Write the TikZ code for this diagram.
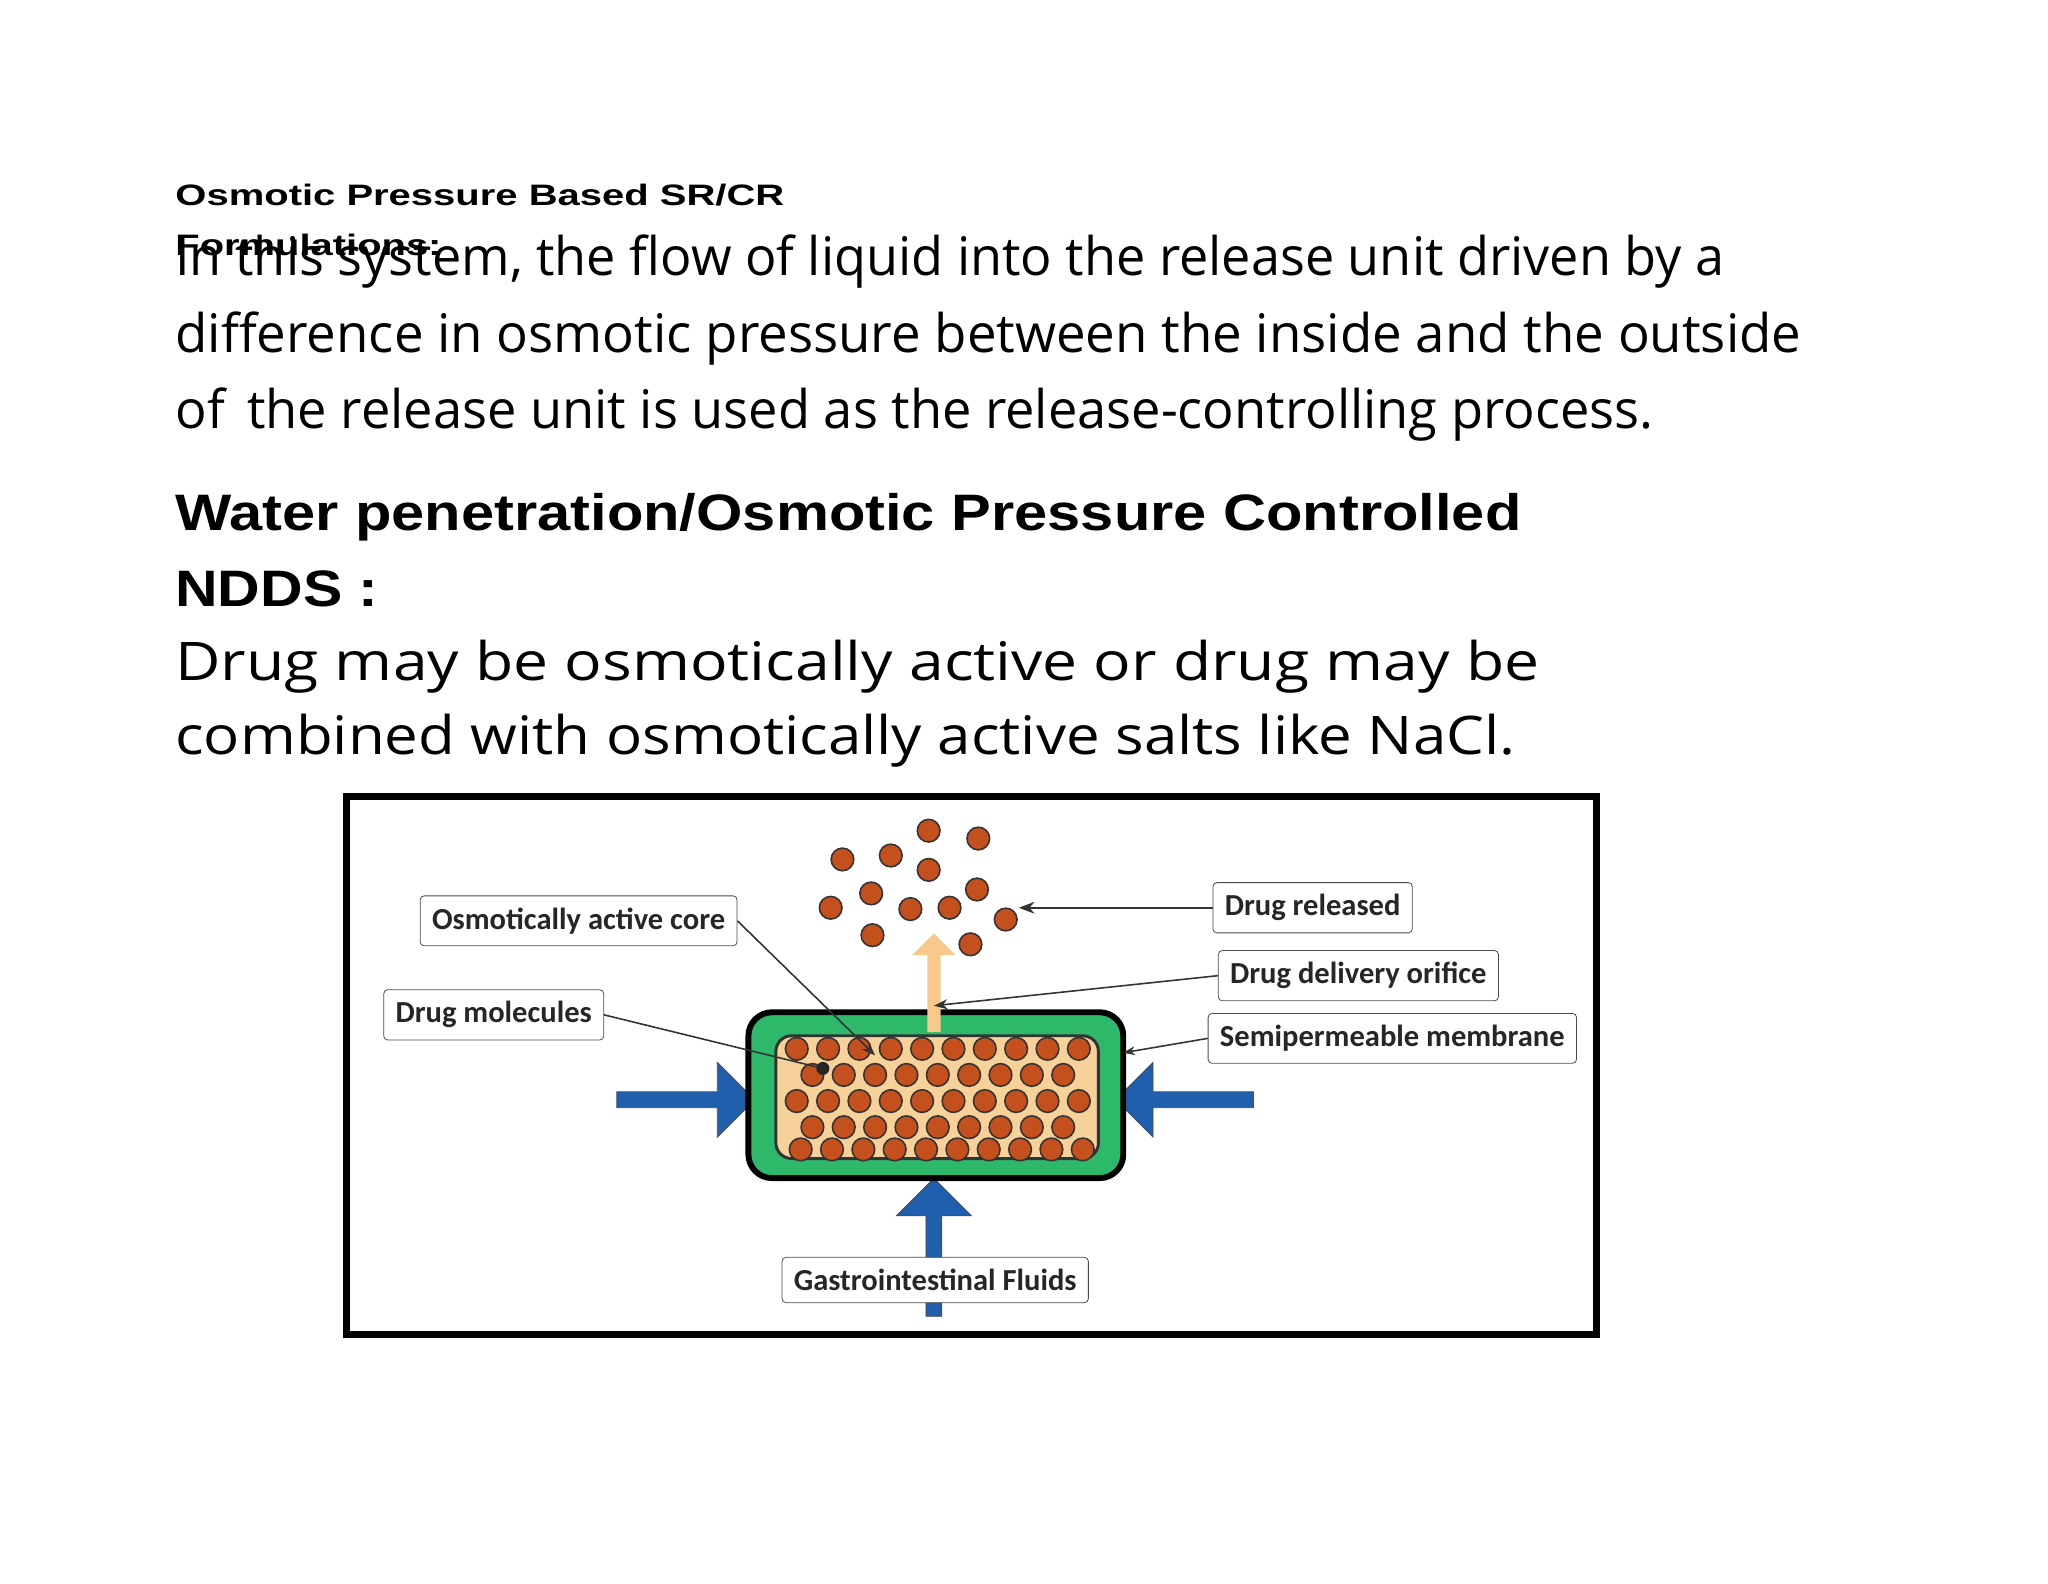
\documentclass[tikz,border=0pt]{standalone}
\usepackage{fontspec}
\setmainfont{Open Sans}
\newfontfamily\hfont{Liberation Sans}
\newfontfamily\lfont{Carlito}
\usetikzlibrary{arrows.meta,shapes.arrows}
\definecolor{memgreen}{HTML}{2DB86A}
\definecolor{coretan}{HTML}{F7D19A}
\definecolor{drugbrown}{HTML}{C4501E}
\definecolor{fluidblue}{HTML}{1F5FAE}
\definecolor{outarrow}{HTML}{F8C98A}
\tikzset{
  lbl/.style={draw=black!70,rounded corners=2pt,fill=white,inner xsep=6pt,inner ysep=6pt,font=\lfont\bfseries\fontsize{15.5}{17}\selectfont,text=black!85},
  drug/.style={circle,draw=black!80,fill=drugbrown,line width=0.8pt,minimum size=11.5pt,inner sep=0pt},
  leader/.style={draw=black!80,line width=0.8pt},
  txt/.style={anchor=base west,inner sep=0pt}
}
\begin{document}
\begin{tikzpicture}[x=0.66275pt,y=-0.66275pt]
\useasboundingbox[fill=white] (0,0) rectangle (1568,1212);
% text
\node[txt,font=\hfont\bfseries\fontsize{15}{18}\selectfont] (t1) at (134,157) {\resizebox{309pt}{\height}{Osmotic Pressure Based SR/CR}};
\node[txt,font=\hfont\bfseries\fontsize{15}{18}\selectfont] (t2) at (134,196) {\resizebox{135pt}{\height}{Formulations:}};
\node[txt,font=\fontsize{27}{30}\selectfont] (p1) at (134,211) {\resizebox{786pt}{\height}{In this system, the flow of liquid into the release unit driven by a}};
\node[txt,font=\fontsize{27}{30}\selectfont] (p2) at (134,270) {\resizebox{825pt}{\height}{difference in osmotic pressure between the inside and the outside}};
\node[txt,font=\fontsize{27}{30}\selectfont] (p3) at (134,328) {\resizebox{750pt}{\height}{of\, the release unit is used as the release-controlling process.}};
\node[txt,font=\hfont\bfseries\fontsize{26}{30}\selectfont] (h1) at (134,406) {\resizebox{683pt}{\height}{Water penetration/Osmotic Pressure Controlled}};
\node[txt,font=\hfont\bfseries\fontsize{26}{30}\selectfont] (h2) at (134,464) {\resizebox{103pt}{\height}{NDDS :}};
\node[txt,font=\fontsize{27}{30}\selectfont] (d1) at (134,521) {\resizebox{692pt}{\height}{Drug may be osmotically active or drug may be}};
\node[txt,font=\fontsize{27}{30}\selectfont] (d2) at (134,578) {\resizebox{680pt}{\height}{combined with osmotically active salts like NaCl.}};
% frame
\draw[line width=3.5pt,fill=white] (265,610) rectangle (1222,1022);
% blue arrows
\node[single arrow,draw=black!70,fill=fluidblue,minimum height=70pt,minimum width=38pt,single arrow head extend=10pt,inner sep=2.5pt] (la) at (522,842) {};
\node[single arrow,draw=black!70,fill=fluidblue,minimum height=70pt,minimum width=38pt,single arrow head extend=10pt,inner sep=2.5pt,shape border rotate=180] (ra) at (910,842) {};
\node[single arrow,draw=black!70,fill=fluidblue,minimum height=70pt,minimum width=38pt,single arrow head extend=10pt,inner sep=2.5pt,shape border rotate=90] (ba) at (715,958) {};
% capsule
\draw[line width=3pt,fill=memgreen,rounded corners=12pt] (573,775) rectangle (860,902);
\draw[line width=1.5pt,draw=black!80,fill=coretan,rounded corners=8pt] (594,793) rectangle (841,887);
\foreach \y/\o in {803/0,823/12,843/0,863/12,880/3}{
  \foreach \i in {0,...,9}{
    \pgfmathsetmacro{\xx}{610+\o+\i*24}
    \ifdim \xx pt<836pt \node[drug] at (\xx,\y) {};\fi
  }
}
% outgoing arrow
\node[single arrow,fill=outarrow,minimum height=50pt,minimum width=22pt,single arrow head extend=5pt,inner sep=2pt,shape border rotate=90] (ua) at (715,755) {};
% released drug
\foreach \p [count=\k] in {(711,636),(749,642),(645,658),(682,655),(711,666),(667,684),(748,681),(636,695),(697,696),(727,695),(770,704),(668,716),(743,723)}
  \node[drug] (r\k) at \p {};
% labels
\node[lbl] (oac) at (443,705) {Osmotically active core};
\node[lbl] (dm) at (378,777) {Drug molecules};
\node[lbl] (dr) at (1005,695) {Drug released};
\node[lbl] (ddo) at (1040,747) {Drug delivery orifice};
\node[lbl] (sm) at (1066,795) {Semipermeable membrane};
\node[lbl] (gf) at (716,980) {Gastrointestinal Fluids};
% leaders
\coordinate (c1) at (670,808);
\coordinate (c2) at (630,818);
\coordinate (c3) at (715,770);
\coordinate (c4) at (860,806);
\coordinate (c5) at (780,695);
\draw[leader,-{Stealth[length=7pt]}] (oac.east) -- (c1);
\draw[leader] (dm.east) -- (c2);
\fill[black!85] (c2) circle (5);
\draw[leader,-{Stealth[length=8pt]}] (dr.west) -- (c5);
\draw[leader,-{Stealth[length=7pt]}] (ddo.west) -- (c3);
\draw[leader,-{Stealth[length=6pt]}] (sm.west) -- (c4);
\end{tikzpicture}
\end{document}
